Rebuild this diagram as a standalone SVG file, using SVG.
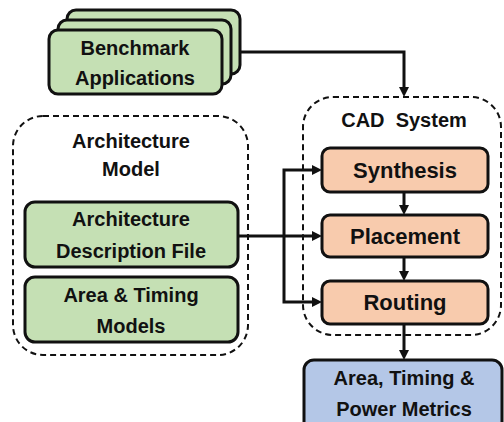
<svg xmlns="http://www.w3.org/2000/svg" width="504" height="422" viewBox="0 0 504 422">
  <style>
    .lbl { font-family: "Liberation Sans", Arial, sans-serif; font-weight: bold; font-size: 20px; fill: #111; text-anchor: middle; }
    .big { font-size: 22px; }
    .hdr { font-size: 20px; }
    .green { fill: #c5e0b4; stroke: #111; stroke-width: 3; }
    .orange { fill: #f8cbad; stroke: #111; stroke-width: 3; }
    .blue { fill: #b4c7e7; stroke: #111; stroke-width: 3; }
    .group { fill: none; stroke: #111; stroke-width: 2; stroke-dasharray: 6 4; }
    .wire { fill: none; stroke: #111; stroke-width: 3; }
  </style>
  <defs>
    <marker id="arrow" markerUnits="userSpaceOnUse" markerWidth="12" markerHeight="12" refX="2" refY="5" orient="auto">
      <path d="M0,0 L10,5 L0,10 z" fill="#111"/>
    </marker>
  </defs>

  <!-- dashed containers -->
  <g id="architecture-model">
    <rect class="group" x="13" y="116" width="235" height="239" rx="30"/>
    <text class="lbl hdr" x="131" y="148">Architecture</text>
    <text class="lbl hdr" x="131" y="176">Model</text>
  </g>
  <g id="cad-system">
    <rect class="group" x="303" y="97" width="198" height="238" rx="30"/>
    <text class="lbl hdr" x="404" y="127" xml:space="preserve">CAD  System</text>
  </g>

  <!-- stacked benchmark cards -->
  <g id="benchmark-applications">
    <rect class="green" x="67" y="10" width="173" height="64" rx="9"/>
    <rect class="green" x="58" y="20" width="173" height="64" rx="9"/>
    <rect class="green" x="49" y="30" width="173" height="64" rx="9"/>
    <text class="lbl" x="135" y="55">Benchmark</text>
    <text class="lbl" x="135" y="85">Applications</text>
  </g>

  <g id="architecture-description-file">
    <rect class="green" x="25" y="202" width="213" height="65" rx="10"/>
    <text class="lbl" x="131" y="226">Architecture</text>
    <text class="lbl" x="131" y="258">Description File</text>
  </g>
  <g id="area-timing-models">
    <rect class="green" x="25" y="277" width="213" height="65" rx="10"/>
    <text class="lbl" x="131" y="302">Area &amp; Timing</text>
    <text class="lbl" x="131" y="333">Models</text>
  </g>

  <g id="synthesis">
    <rect class="orange" x="322" y="148" width="166" height="44" rx="8"/>
    <text class="lbl big" x="405" y="178">Synthesis</text>
  </g>
  <g id="placement">
    <rect class="orange" x="322" y="215" width="166" height="42" rx="8"/>
    <text class="lbl big" x="405" y="244">Placement</text>
  </g>
  <g id="routing">
    <rect class="orange" x="322" y="281" width="166" height="43" rx="8"/>
    <text class="lbl big" x="405" y="310">Routing</text>
  </g>

  <g id="metrics">
    <rect class="blue" x="304" y="360" width="198" height="80" rx="10"/>
    <text class="lbl" x="404" y="385">Area, Timing &amp;</text>
    <text class="lbl" x="404" y="416">Power Metrics</text>
  </g>

  <!-- connectors -->
  <g id="connectors">
    <path class="wire" d="M240,52 H404 V89" marker-end="url(#arrow)"/>
    <path class="wire" d="M404,192 V207" marker-end="url(#arrow)"/>
    <path class="wire" d="M404,257 V273" marker-end="url(#arrow)"/>
    <path class="wire" d="M404,324 V352" marker-end="url(#arrow)"/>
    <path class="wire" d="M238,236 H314" marker-end="url(#arrow)"/>
    <path class="wire" d="M284,236 V170 H314" marker-end="url(#arrow)"/>
    <path class="wire" d="M284,236 V302 H314" marker-end="url(#arrow)"/>
  </g>
</svg>
